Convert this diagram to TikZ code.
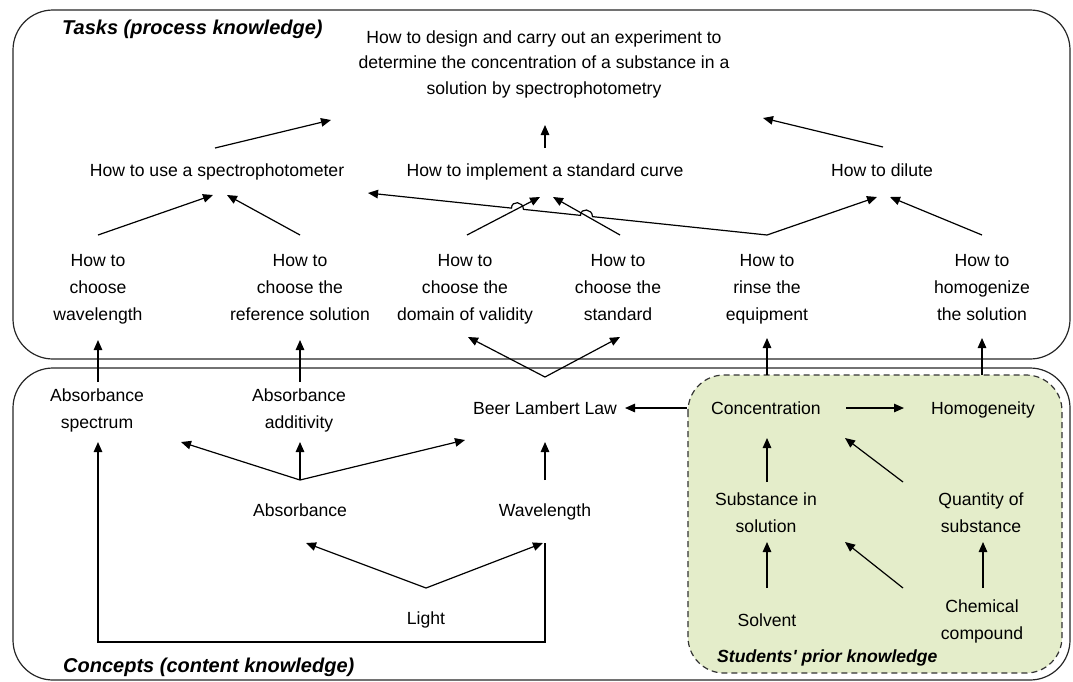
\documentclass[tikz,border=0pt]{standalone}
\usepackage{fontspec}
\setmainfont{Liberation Sans}
\usetikzlibrary{arrows.meta,calc,intersections}
\definecolor{prior}{RGB}{228,237,202}
\newcommand\tstr{\rule{0pt}{22pt}}
\begin{document}
\begin{tikzpicture}[x=1pt,y=-1pt,
  lbl/.style={align=center,inner sep=0pt,font=\fontsize{17.6}{26.5}\selectfont,
    execute at begin node={\rule{0pt}{21.5pt}}, execute at end node={\rule[-8pt]{0pt}{8pt}}},
  mlbl/.style={align=center,inner sep=0pt,font=\fontsize{17.6}{27}\selectfont,
    execute at end node={\rule[-8pt]{0pt}{8pt}}},
  goalstyle/.style={align=center,inner sep=0pt,font=\fontsize{17.6}{25.5}\selectfont},
  ttl/.style={anchor=west,inner sep=0pt,font=\fontsize{20}{24}\selectfont\bfseries\itshape},
  subttl/.style={anchor=west,inner sep=0pt,font=\fontsize{17.6}{22}\selectfont\bfseries\itshape},
  arr/.style={line width=1.2pt,-{Triangle[length=10pt,width=8.5pt]}},
  region/.style={draw=black!85,line width=1.2pt,rounded corners=40pt},
]
\useasboundingbox (0,0) rectangle (1073,681);
% regions
\draw[region] (13,10) rectangle (1070,359);
\draw[region] (13,368) rectangle (1070,680);
\draw[draw=black!80,fill=prior,line width=1.2pt,dash pattern=on 6pt off 4pt,rounded corners=36pt] (688,375) rectangle (1062,673);

\node[ttl] (tasks) at (62,29) {Tasks (process knowledge)};
\node[ttl] (concepts) at (63,667) {Concepts (content knowledge)};
\node[subttl] (prior) at (717,658) {Students\textquotesingle{} prior knowledge};

% tasks
\node[goalstyle] (goal) at (544,64) {How to design and carry out an experiment to\\determine the concentration of a substance in a\\solution by spectrophotometry};
\node[lbl] (spectro) at (217,170) {How to use a spectrophotometer};
\node[lbl] (impl) at (545,170) {How to implement a standard curve};
\node[lbl] (dilute) at (882,170) {How to dilute};
\node[mlbl] (wl) at (98,286) {\tstr How to\\choose\\wavelength};
\node[mlbl] (ref) at (300,286) {\tstr How to\\choose the\\reference solution};
\node[mlbl] (domain) at (465,286) {\tstr How to\\choose the\\domain of validity};
\node[mlbl] (std) at (618,286) {\tstr How to\\choose the\\standard};
\node[mlbl] (rinse) at (767,286) {\tstr How to\\rinse the\\equipment};
\node[mlbl] (homog) at (982,286) {\tstr How to\\homogenize\\the solution};

% concepts
\node[mlbl] (absspec) at (97,408) {\tstr Absorbance\\spectrum};
\node[mlbl] (absadd) at (299,408) {\tstr Absorbance\\additivity};
\node[lbl] (beer) at (545,408) {Beer Lambert Law};
\node[lbl] (conc) at (766,408) {Concentration};
\node[lbl] (homgy) at (983,408) {Homogeneity};
\node[lbl] (absorb) at (300,510) {Absorbance};
\node[lbl] (wave) at (545,510) {Wavelength};
\node[lbl] (light) at (426,618) {Light};
\node[mlbl] (subst) at (766,512) {\tstr Substance in\\solution};
\node[mlbl] (quant) at (981,512) {\tstr Quantity of\\substance};
\node[lbl] (solvent) at (767,620) {Solvent};
\node[mlbl] (chem) at (982,619) {\tstr Chemical\\compound};

% task arrows
\draw[arr] ($(spectro)+(-2,-22)$) -- ($(goal)+(-213,56)$);
\draw[arr] ($(impl)+(0,-22)$) -- ($(goal)+(1,61)$);
\draw[arr] ($(dilute)+(1,-23)$) -- ($(goal)+(219,54)$);
\draw[arr] ($(wl)+(0,-51)$) -- ($(spectro)+(-4,25)$);
\draw[arr] ($(ref)+(0,-51)$) -- ($(spectro)+(10,25)$);

% long connector with hops
\coordinate (rinseT) at ($(rinse)+(0,-51)$);
\coordinate (specR) at ($(spectro)+(151,23)$);
\coordinate (domT) at ($(domain)+(2,-51)$);
\coordinate (implL) at ($(impl)+(-5,27)$);
\coordinate (stdT) at ($(std)+(2,-51)$);
\coordinate (implR) at ($(impl)+(8,27)$);
\path[name path=longp] (rinseT) -- (specR);
\path[name path=domp] (domT) -- (implL);
\path[name path=stdp] (stdT) -- (implR);
\path[name intersections={of=longp and domp,by=X1}];
\path[name intersections={of=longp and stdp,by=X2}];
\draw[arr] (rinseT) -- ($(X2)!6pt!(rinseT)$) .. controls +(0,-8) and +(0,-8) .. ($(X2)!6pt!(specR)$)
  -- ($(X1)!6pt!(rinseT)$) .. controls +(0,-8) and +(0,-8) .. ($(X1)!6pt!(specR)$) -- (specR);
\draw[arr] (domT) -- (implL);
\draw[arr] (stdT) -- (implR);
\draw[arr] (rinseT) -- ($(dilute)+(-5,27)$);
\draw[arr] ($(homog)+(0,-51)$) -- ($(dilute)+(8,27)$);

% concept -> task arrows
\draw[arr] ($(absspec)+(1,-26)$) -- ($(wl)+(0,54)$);
\draw[arr] ($(absadd)+(1,-26)$) -- ($(ref)+(0,54)$);
\draw[arr] ($(beer)+(0,-31)$) -- ($(domain)+(3,51)$);
\draw[arr] ($(beer)+(0,-31)$) -- ($(std)+(2,51)$);
\draw[arr] ($(conc)+(1,-33)$) -- ($(rinse)+(0,52)$);
\draw[arr] ($(homgy)+(-1,-33)$) -- ($(homog)+(0,52)$);

% concepts arrows
\draw[arr] ($(conc)+(-79,0)$) -- ($(beer)+(80,0)$);
\draw[arr] ($(conc)+(80,0)$) -- ($(homgy)+(-79,0)$);
\draw[arr] ($(absorb)+(0,-30)$) -- ($(absspec)+(84,34)$);
\draw[arr] ($(absorb)+(0,-30)$) -- ($(absadd)+(1,34)$);
\draw[arr] ($(absorb)+(0,-30)$) -- ($(beer)+(-80,32)$);
\draw[arr] ($(wave)+(0,-30)$) -- ($(beer)+(0,34)$);
\draw[arr] ($(light)+(0,-30)$) -- ($(absorb)+(6,33)$);
\draw[arr] ($(light)+(0,-30)$) -- ($(wave)+(-2,33)$);
\draw[arr] ($(wave)+(0,33)$) |- ($(light)+(0,24)$) -| ($(absspec)+(1,34)$);

% prior knowledge arrows
\draw[arr] ($(subst)+(1,-30)$) -- ($(conc)+(1,30)$);
\draw[arr] ($(quant)+(-78,-30)$) -- ($(conc)+(79,30)$);
\draw[arr] ($(solvent)+(0,-32)$) -- ($(subst)+(1,30)$);
\draw[arr] ($(chem)+(-79,-31)$) -- ($(subst)+(79,30)$);
\draw[arr] ($(chem)+(1,-31)$) -- ($(quant)+(2,30)$);
\end{tikzpicture}
\end{document}
